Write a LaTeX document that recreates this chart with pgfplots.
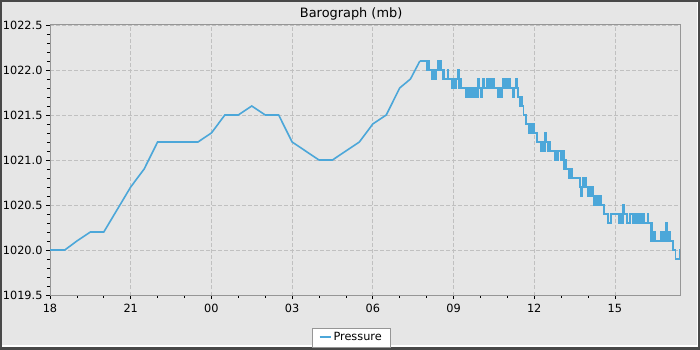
\documentclass[border=0pt]{standalone}
\usepackage{pgfplots}
\pgfplotsset{compat=1.18}
\usepackage{fontspec}
\setmainfont{DejaVu Sans}
\definecolor{bgc}{RGB}{230,230,230}
\definecolor{frm}{RGB}{72,72,72}
\definecolor{axc}{RGB}{150,150,150}
\definecolor{grc}{RGB}{192,192,192}
\definecolor{linec}{RGB}{76,167,217}
\begin{document}
\begin{tikzpicture}[x=1pt,y=1pt]
\fill[frm] (0,0) rectangle (700,350);
\fill[white] (2,3.3) rectangle (697.7,348);
\fill[bgc] (2,4.6) rectangle (696.7,348);
\begin{axis}[
  at={(50pt,55pt)}, anchor=south west,
  width=630pt, height=270pt, scale only axis,
  xmin=0, xmax=23.42, ymin=1019.5, ymax=1022.5,
  xtick={0,3,...,21},
  xticklabels={18,21,00,03,06,09,12,15},
  minor x tick num=2,
  ytick={1019.5,1020,1020.5,1021,1021.5,1022,1022.5},
  minor y tick num=4,
  yticklabel style={/pgf/number format/.cd,fixed,fixed zerofill,precision=1,1000 sep={}},
  xticklabel style={yshift=-2pt},
  /pgf/number format/assume math mode=true,
  tick label style={font=\fontsize{11.3}{13}\selectfont, text=black},
  tick align=outside, tick pos=left,
  major tick length=4pt, minor tick length=3pt,
  tick style={black, line width=0.8pt},
  axis line style={axc, line width=1pt},
  axis background/.style={fill=bgc},
  grid=major,
  major grid style={grc, dash pattern=on 3.5pt off 2.5pt, line width=0.8pt},
  title={Barograph (mb)},
  title style={at={(0.478,1)}, anchor=base, yshift=1.7pt, font=\fontsize{12.9}{15}\selectfont},
  legend style={at={(0.478,-0.1574)}, anchor=center, draw=axc, fill=white,
    font=\fontsize{11.3}{13}\selectfont, inner xsep=6pt, inner ysep=2.6pt},
  legend image code/.code={\draw[linec, line width=2pt] (0pt,0pt) -- (11pt,0pt);},
]
\addplot[linec, line width=1.6pt, line join=miter] coordinates {
(0,1020.0) (0.55,1020.0) (1.0,1020.1) (1.5,1020.2) (2.0,1020.2) (2.4,1020.4)
(3.0,1020.7) (3.5,1020.9) (4.0,1021.2) (5.5,1021.2) (6.0,1021.3) (6.5,1021.5)
(7.0,1021.5) (7.5,1021.6) (8.0,1021.5) (8.5,1021.5) (9.0,1021.2) (9.5,1021.1)
(10.0,1021.0) (10.5,1021.0) (11.0,1021.1) (11.5,1021.2) (12.0,1021.4) (12.5,1021.5)
(13.0,1021.8) (13.4,1021.9) (13.75,1022.1)
};
\addlegendentry{Pressure}
\addplot[linec, line width=1.6pt, const plot, forget plot] coordinates {
(13.75,1022.1)
(13.80,1022.1) (13.85,1022.1) (13.90,1022.1) (13.95,1022.1) (14.00,1022.0)
(14.05,1022.1) (14.10,1022.0) (14.15,1022.0) (14.20,1021.9) (14.25,1022.0)
(14.30,1021.9) (14.35,1022.0) (14.40,1022.1) (14.45,1022.0) (14.50,1022.1)
(14.55,1022.0) (14.60,1021.9) (14.62,1022.0) (14.65,1021.9) (14.70,1021.9)
(14.75,1021.9) (14.80,1022.0) (14.82,1021.9) (14.85,1021.9) (14.90,1021.9)
(14.95,1021.8) (15.00,1021.9) (15.05,1021.8) (15.10,1021.9) (15.15,1022.0)
(15.20,1021.8) (15.25,1021.9) (15.30,1021.8) (15.35,1021.8) (15.40,1021.8)
(15.45,1021.7) (15.50,1021.8) (15.55,1021.7) (15.60,1021.8) (15.65,1021.7)
(15.70,1021.8) (15.75,1021.7) (15.80,1021.8) (15.85,1021.7) (15.90,1021.9)
(15.95,1021.8) (16.00,1021.7) (16.05,1021.8) (16.10,1021.9) (16.15,1021.8)
(16.20,1021.8) (16.25,1021.9) (16.30,1021.8) (16.35,1021.9) (16.40,1021.8)
(16.45,1021.9) (16.50,1021.8) (16.55,1021.8) (16.60,1021.8) (16.65,1021.7)
(16.70,1021.8) (16.75,1021.7) (16.80,1021.8) (16.85,1021.9) (16.90,1021.8)
(16.95,1021.9) (17.00,1021.8) (17.05,1021.9) (17.10,1021.8) (17.15,1021.8)
(17.20,1021.7) (17.25,1021.8) (17.30,1021.9) (17.35,1021.8) (17.40,1021.7)
(17.45,1021.6) (17.50,1021.7) (17.55,1021.6) (17.60,1021.5) (17.65,1021.5)
(17.70,1021.4) (17.75,1021.4) (17.80,1021.3) (17.85,1021.4) (17.90,1021.3)
(17.95,1021.4) (18.00,1021.3) (18.05,1021.3) (18.10,1021.2) (18.15,1021.2)
(18.20,1021.2) (18.25,1021.1) (18.30,1021.2) (18.35,1021.1) (18.40,1021.3)
(18.45,1021.2) (18.50,1021.1) (18.55,1021.2) (18.60,1021.1) (18.65,1021.1)
(18.70,1021.1) (18.75,1021.0) (18.80,1021.1) (18.85,1021.0) (18.90,1021.1)
(18.95,1021.1) (19.00,1021.0) (19.05,1021.1) (19.10,1020.9) (19.15,1021.0)
(19.20,1020.9) (19.25,1020.9) (19.30,1020.8) (19.35,1020.9) (19.40,1020.8)
(19.45,1020.8) (19.50,1020.8) (19.55,1020.8) (19.60,1020.8) (19.65,1020.8)
(19.70,1020.7) (19.75,1020.6) (19.80,1020.8) (19.85,1020.7) (19.90,1020.8)
(19.95,1020.7) (20.00,1020.6) (20.05,1020.7) (20.10,1020.6) (20.15,1020.7)
(20.20,1020.5) (20.25,1020.6) (20.30,1020.5) (20.35,1020.6) (20.40,1020.5)
(20.45,1020.6) (20.50,1020.5) (20.55,1020.5) (20.60,1020.4) (20.65,1020.4)
(20.70,1020.4) (20.75,1020.3) (20.80,1020.3) (20.85,1020.4) (20.90,1020.4)
(20.95,1020.4) (21.00,1020.4) (21.05,1020.4) (21.10,1020.4) (21.15,1020.3)
(21.20,1020.4) (21.25,1020.3) (21.30,1020.5) (21.35,1020.4) (21.40,1020.4)
(21.45,1020.3) (21.50,1020.3) (21.55,1020.4) (21.60,1020.4) (21.65,1020.3)
(21.70,1020.4) (21.75,1020.3) (21.80,1020.4) (21.85,1020.3) (21.88,1020.4)
(21.92,1020.3) (21.97,1020.4) (22.00,1020.3) (22.05,1020.4) (22.10,1020.3)
(22.15,1020.3) (22.20,1020.3) (22.22,1020.4) (22.25,1020.3) (22.30,1020.3)
(22.33,1020.1) (22.37,1020.3) (22.40,1020.1) (22.45,1020.2) (22.50,1020.1)
(22.55,1020.1) (22.60,1020.1) (22.65,1020.1) (22.70,1020.2) (22.75,1020.1)
(22.80,1020.2) (22.85,1020.1) (22.90,1020.3) (22.95,1020.1) (23.00,1020.2)
(23.05,1020.1) (23.10,1020.1) (23.15,1020.0) (23.20,1020.0) (23.25,1019.9)
(23.30,1019.9) (23.35,1019.9) (23.40,1020.0) (23.42,1020.0)
};
\end{axis}
\pgfresetboundingbox
\useasboundingbox (0,0) rectangle (700,350);
\end{tikzpicture}
\end{document}
